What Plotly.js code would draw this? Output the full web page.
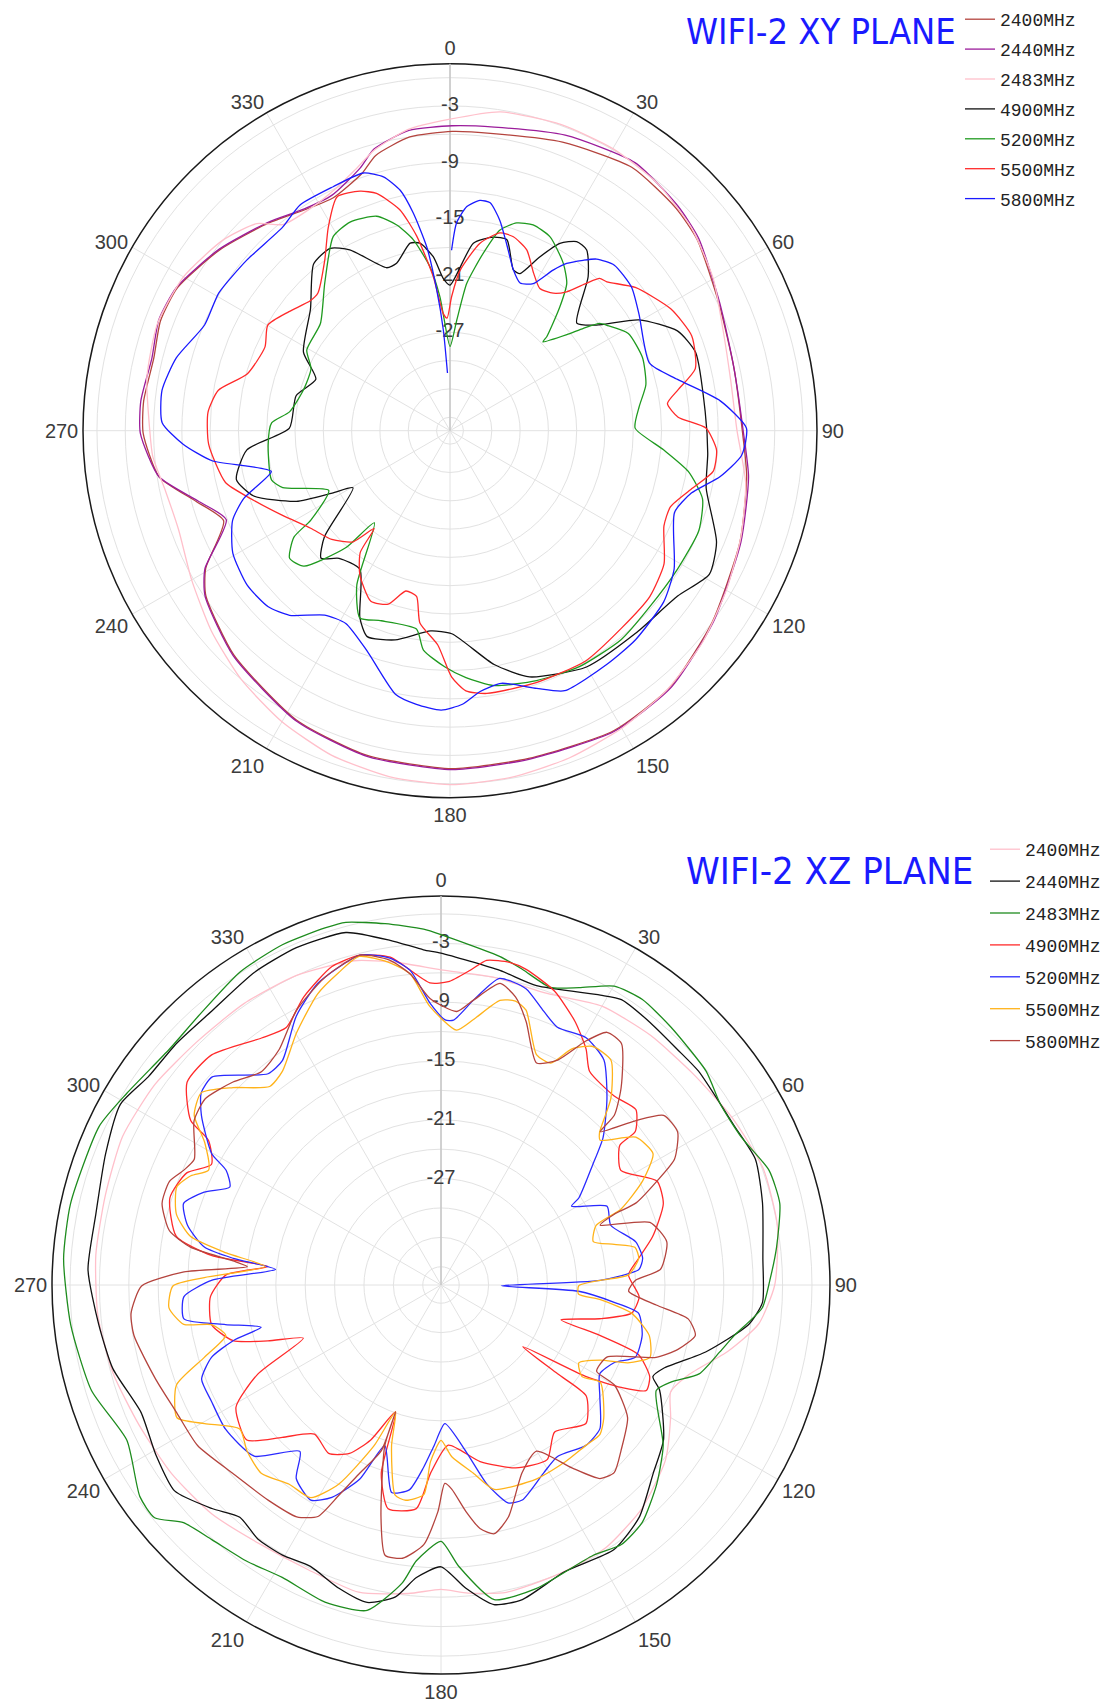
<!DOCTYPE html>
<html><head><meta charset="utf-8">
<script src="https://cdn.plot.ly/plotly-3.0.1.min.js"></script>
<style>html,body{margin:0;padding:0;background:#fff}#chart{width:1107px;height:1703px}</style>
</head><body><div id="chart"></div>
<script>
// ---------- shared axis data ----------
const freqLabels = ['2400MHz','2440MHz','2483MHz','4900MHz','5200MHz','5500MHz','5800MHz'];
const angVals = [0,30,60,90,120,150,180,210,240,270,300,330];
const angText = ['0','30','60','90','120','150','180','210','240','270','300','330'];
const gridVals = [-36,-33,-30,-27,-24,-21,-18,-15,-12,-9,-6,-3,0];
const radialLabelVals = [-3,-9,-15,-21,-27];
const radialLabelText = ['-3','-9','-15','-21','-27'];

// ---------- XY PLANE ----------
const xy2400_theta = [0.4,8.3,21.3,34.6,45.4,52.3,64.8,77.6,90.6,98.8,111,126.2,139.3,151.4,166.5,179.7,194.3,207.9,223.9,236,240.6,248.3,254.4,261,269.5,275.5,283.7,290.8,297.7,308.2,318.9,326.7,333.4,341.1,344.9,352.2];
const xy2400_r = [-5.7,-5.6,-4.6,-3.5,-3.8,-4.3,-5.9,-6.6,-6.4,-5.6,-4.5,-3.0,-1.6,-1.2,-1.7,-1.6,-1.9,-2.7,-4.4,-6.2,-7.7,-11.6,-9.5,-6.2,-4.9,-4.8,-5.1,-4.6,-4.8,-6.4,-8.2,-9.4,-9.8,-8.6,-7.2,-6.0];
const xy2440_theta = [0.4,8.3,21.3,34.6,45.4,52.3,64.8,77.6,90.6,98.8,111,126.2,139.3,151.4,166.5,179.7,194.3,207.9,223.9,236,240.6,248.3,254.4,261,269.5,275.5,283.7,290.8,297.7,308.2,318.9,326.7,333.4,341.1,344.9,352.2];
const xy2440_r = [-5.1,-4.9,-3.8,-2.9,-3.5,-4.1,-5.8,-6.6,-6.3,-5.4,-4.4,-2.9,-1.5,-1.1,-1.6,-1.5,-1.8,-2.6,-4.3,-6.1,-7.6,-11.9,-9.7,-6.2,-4.6,-4.5,-4.9,-4.4,-4.7,-6.3,-8.1,-9.3,-9.5,-8.0,-6.5,-5.3];
const xy2483_theta = [0,9,20,30,40,50,60,70,80,90,100,110,120,130,140,150,160,170,180,190,200,210,220,230,240,250,258,265,270,280,290,300,310,317,321,328,335,340,345,352];
const xy2483_r = [-4.4,-3.2,-2.9,-2.9,-3.2,-4.0,-5.2,-6.6,-7.2,-7.0,-5.6,-4.6,-3.6,-2.5,-1.6,-1.0,-0.5,-0.1,0.1,-0.2,-0.8,-1.8,-3.0,-4.4,-5.8,-6.8,-6.6,-5.8,-5.6,-4.8,-4.4,-4.8,-6.0,-7.4,-9.3,-9.6,-9.0,-8.0,-6.6,-5.2];
const xy4900_theta = [0,7.1,12.6,16.6,21.5,24,27.3,30.4,33.8,37.1,41.9,49.7,54.2,59.6,66.3,72.3,85.7,95,102.6,112.7,119,126,137.6,150,162.1,169.3,179.5,185.5,194.7,201.9,205.7,213,221,225.3,229.8,239.5,242.1,245.3,251.6,257.1,264.6,270.9,282.8,291,298.2,311.1,320.7,326.7,331,338.8,342.3,348,350.9,354.5,357.5];
const xy4900_r = [-22.0,-17.4,-16.4,-16.3,-19.1,-19.2,-16.7,-14.4,-13.3,-13.4,-15.5,-19.8,-18.3,-14.2,-11.1,-10.1,-10.3,-10.0,-9.6,-6.8,-6.0,-7.6,-8.3,-8.5,-10.0,-12.2,-15.9,-16.1,-14.5,-13.9,-15.4,-19.9,-19.5,-18.2,-20.0,-25.5,-23.3,-19.5,-15.5,-14.2,-15.8,-20.4,-20.7,-22.2,-19.8,-17.8,-14.6,-14.3,-15.5,-18.9,-18.8,-17.1,-17.3,-18.9,-21.3];
const xy5200_theta = [0,3.5,6.5,10.6,14,17.8,22,27.3,34.1,38.4,41.6,45.8,46.3,50.6,52.5,54.4,56.1,61.4,69.2,76.8,82.7,89.2,95.1,99.7,105.1,111.9,121.3,131.5,140.7,151.4,160.9,170.2,176.3,181.3,186.9,189.6,199.9,205.7,211.1,219.4,221.7,227.2,231.5,235.7,237.3,243.8,251.2,254.6,265.7,272.5,276.7,285.5,294,299.4,309.6,319.7,329,334.4,341.1,345.5,349.1,353,355.7];
const xy5200_r = [-28.5,-25.7,-21.7,-18.3,-15.5,-14.3,-13.9,-14.3,-16.0,-17.5,-19.9,-23.1,-23.8,-21.4,-19.6,-17.9,-17.4,-15.9,-15.6,-16.1,-17.2,-17.8,-14.7,-11.8,-9.7,-9.0,-9.2,-9.2,-8.8,-8.9,-9.4,-10.0,-11.2,-12.4,-14.0,-16.1,-16.0,-15.4,-18.3,-24.8,-20.8,-16.3,-15.7,-17.4,-19.9,-23.1,-18.7,-17.8,-18.1,-18.5,-20.3,-21.3,-21.3,-20.0,-19.6,-16.9,-13.4,-12.9,-13.4,-14.9,-16.8,-19.9,-23.2];
const xy5500_theta = [0.7,3.6,9.1,14.2,18.1,23,27.9,32.3,36.9,40,42.8,44.5,46.5,52.3,61.1,68.6,75.8,79.9,82.9,86.6,89.4,94.1,98.8,103.3,109,114,121.9,129.7,139.1,149.5,161.1,172,176.5,179.6,183.3,188.9,191.4,195.4,199.6,204.9,212,216.4,217.8,221.1,227.4,235,243.3,251.2,257,266.8,274.4,279.9,285.6,294.3,300.1,306.5,312.9,316.2,323.7,329.1,334.2,339.4,342.8,347.2,350.3,353.8,356.7,358.5];
const xy5500_r = [-23.2,-20.4,-17.3,-15.8,-15.8,-16.6,-18.5,-19.6,-19.2,-18.2,-16.1,-14.8,-14.5,-12.6,-10.7,-9.9,-10.6,-12.9,-14.2,-13.2,-10.3,-9.1,-9.2,-11.0,-12.7,-12.6,-10.7,-9.9,-9.7,-9.1,-9.2,-9.3,-9.8,-11.3,-14.7,-16.8,-19.5,-19.8,-17.9,-17.5,-19.4,-21.4,-24.3,-21.8,-20.4,-19.4,-17.5,-15.1,-13.0,-11.8,-11.7,-12.5,-15.1,-15.9,-15.1,-16.2,-17.2,-17.2,-15.0,-12.3,-9.9,-10.3,-11.1,-13.4,-16.5,-21.0,-25.0,-25.5];
const xy5800_theta = [0.5,1.8,4.3,7.4,10,13.3,16.8,21.5,25.4,29.5,32.7,34.9,38,40.5,44.8,51.7,58.4,71.3,77.3,83.7,89.5,94.8,99.7,104.5,110,121.7,128.7,138.4,146,156.2,161.4,168.5,173.4,177.4,181.8,187,191.7,200.7,208.4,214.2,221,225.9,232.7,240.6,247.6,251.8,257.1,260.1,262.8,267.1,271.6,278,284.9,293.3,300.8,310,320.5,326.4,334.4,341.4,345.3,348.3,350.4,352.8,354.6,356.2,357.5];
const xy5800_r = [-18.3,-15.4,-13.6,-12.8,-12.9,-14.5,-16.7,-19.1,-20.1,-19.5,-17.2,-15.8,-14.5,-13.5,-12.7,-12.9,-13.9,-15.1,-12.7,-8.6,-6.0,-6.4,-8.4,-11.0,-12.1,-9.5,-8.4,-7.8,-7.6,-7.3,-8.6,-10.1,-9.6,-8.4,-7.8,-8.2,-8.9,-12.5,-14.2,-13.8,-11.5,-10.6,-10.4,-11.0,-12.5,-14.4,-18.0,-15.6,-12.0,-9.1,-6.9,-6.6,-7.4,-9.1,-8.9,-9.3,-9.5,-8.7,-8.75,-8.6,-9.6,-11.4,-14.0,-17.8,-22.4,-26.7,-31.3];

// ---------- XZ PLANE ----------
const xz2400_theta = [0,10,20,30,40,50,60,70,80,90,97,103,110,115,120,128,138,148,158,168,175,180,186,195,205,215,225,235,245,255,265,275,285,295,305,315,325,335,345,352];
const xz2400_r = [-5.7,-6.0,-6.2,-5.0,-4.6,-4.3,-3.6,-2.9,-3.0,-3.8,-5.2,-7.8,-11.0,-12.0,-10.8,-8.8,-7.2,-6.2,-6.0,-5.8,-6.3,-6.8,-6.2,-5.4,-5.8,-5.6,-4.8,-4.3,-3.9,-3.2,-2.7,-2.5,-2.4,-2.0,-2.2,-2.7,-2.8,-3.0,-3.6,-4.6];
const xz2440_theta = [0,10.6,17.7,28.8,32.3,38.4,45.1,50.3,61.6,68.2,75.7,85.3,93.1,97.3,104.2,110.5,113.4,115.7,124.8,131.6,139.5,146.8,156.7,165.5,170.6,175.3,180,184.8,188.3,193.1,198.6,204.9,210.4,215.8,220.9,225.7,232.3,239.3,247,255.7,263.4,272.5,281.6,291.4,299.4,305.4,312.4,320.1,329.2,336.8,344.9,351.6,357];
const xz2440_r = [-4.0,-5.2,-5.8,-4.1,-3.4,-3.6,-3.8,-3.7,-3.8,-3.3,-4.0,-4.9,-5.0,-6.2,-10.0,-13.6,-14.3,-13.1,-10.2,-8.9,-6.7,-5.6,-6.0,-4.7,-4.8,-6.8,-9.1,-7.9,-5.7,-4.6,-5.2,-6.2,-5.9,-5.9,-6.5,-5.2,-3.5,-4.0,-4.6,-3.3,-2.7,-1.8,-1.9,-1.1,-0.3,-1.2,-1.3,-1.4,-0.7,-0.4,-0.6,-2.3,-3.6];
const xz2483_theta = [0,10.2,14.5,20.2,24.9,30.1,35.2,41.7,51.1,57.1,63.8,70.7,76.5,83.6,89.2,94.1,99.8,103.5,109,112.9,116.1,125.8,132.7,139.7,145.2,150.7,162.5,170.4,176.4,180,185.1,187.4,192.8,200.1,208.5,215.1,222,227.3,230.9,234.9,243.7,253.2,263.9,274,282.4,294.9,301.4,311,317.9,327.3,335,342,345.3,351.2,357.2];
const xz2483_r = [-2.1,-3.8,-4.6,-5.5,-4.4,-2.6,-2.2,-2.6,-3.1,-3.9,-3.7,-2.4,-2.3,-3.4,-4.3,-5.0,-7.5,-8.6,-10.0,-12.4,-13.4,-9.9,-7.9,-6.1,-5.6,-6.2,-5.4,-5.3,-9.1,-11.7,-9.6,-7.2,-3.8,-3.4,-3.9,-3.4,-2.9,-2.1,-0.2,-0.3,-2.1,-0.6,0.15,0.75,0.85,0.6,-0.3,-1.15,-0.9,0.1,0.45,0.45,0.4,-0.55,-1.5];
const xz4900_theta = [1.4,5.3,8,12,15.1,21.1,27,31.6,34.8,42.5,48,51.7,52,57.5,64.3,69.9,77.1,82.3,86.9,93.4,98.4,102,106.2,107.6,109.4,113.7,117.2,119.6,122.3,127,127.3,127.4,133.7,142.3,148.7,157.8,167.5,177.4,183.2,186.3,193.3,197.6,199.7,204.4,208.5,213.7,220.3,226.2,231.4,239.2,244.1,248.9,252.1,255,260.2,267.1,272.7,276.1,277.3,280.4,287.8,293.8,297.7,301.9,303.3,308.6,315.1,324,329,334.5,341.1,346.2,351.2,357.9];
const xz4900_r = [-6.9,-5.6,-4.4,-4.2,-4.5,-5.7,-7.7,-9.6,-11.3,-11.7,-11.1,-12.6,-14.7,-16.1,-13.4,-13.7,-15.7,-17.5,-18.7,-17.6,-18.2,-21.3,-25.1,-20.8,-16.5,-14.6,-14.3,-16.7,-20.4,-27.4,-22.9,-19.2,-17.4,-18.9,-17.0,-17.7,-19.4,-21.5,-18.6,-14.9,-14.4,-17.7,-24.1,-20.5,-18.3,-17.2,-17.9,-15.4,-12.5,-13.5,-17.1,-22.8,-19.3,-15.9,-14.1,-14.3,-15.9,-20.1,-14.3,-10.4,-8.8,-9.5,-11.4,-9.9,-7.3,-4.7,-4.7,-6.7,-7.2,-5.3,-3.5,-3.2,-4.0,-7.0];
const xz5200_theta = [0.9,2.7,6.5,10.8,16,20.5,24.3,30.4,35.9,41.7,47.7,51.6,57.7,58.9,64.6,70.6,77.5,82.4,85.5,88.3,90.8,92.6,95.7,98.1,104,110.4,114.2,119.2,124.9,132.1,137.9,145.8,151.4,159.3,162.9,167,171.5,178.4,182.4,185.4,188.8,193.4,199.3,202.7,207.2,211.2,216.8,220.3,227.5,236.2,243.1,248.5,252.5,255,256.8,259.6,262.5,267.4,271.2,275.4,277.3,279.1,283.2,287.6,291.4,294.9,298.1,299.8,305.3,308.7,312.3,320.7,324.8,331.7,337.8,346.2,351.1,354.4,357.8];
const xz5200_r = [-10.8,-10.8,-8.6,-6.0,-6.4,-8.0,-9.0,-8.6,-9.5,-12.4,-15.5,-18.1,-21.2,-22.3,-19.1,-19.5,-17.5,-17.1,-17.6,-21.6,-31.7,-23.8,-20.1,-17.5,-16.7,-16.7,-18.5,-19.3,-18.1,-16.0,-15.8,-16.7,-16.0,-14.4,-14.6,-17.0,-20.7,-23.7,-21.5,-19.2,-16.7,-16.1,-20.5,-16.4,-13.5,-12.2,-13.2,-15.6,-12.0,-11.4,-11.6,-11.6,-13.3,-15.9,-19.0,-15.5,-11.4,-11.6,-14.5,-20.9,-16.5,-13.4,-11.3,-10.3,-11.9,-14.1,-13.0,-10.9,-7.9,-6.5,-6.3,-10.0,-9.8,-6.7,-4.6,-3.2,-4.1,-5.6,-9.1];
const xz5500_theta = [3.5,6.9,11.7,14.7,17.2,22.5,26.3,29,32.5,37.1,42.3,46.1,47.7,52.8,58.2,62.7,67.1,69,74.1,76.8,79,82.3,86.9,88.3,90.3,93.8,95.2,98.4,103.6,109.1,112.6,115.3,119.5,123,121.4,129.3,133.2,137.9,145,153.7,165.4,170.3,176.4,180,183.4,184.7,189.3,192.3,197.1,199.7,202.6,207.2,211.5,217.3,223.7,229.4,234.4,239.6,243.3,249.3,253,256.8,260.2,261.3,265.2,269.8,271.8,276,278.5,281,285,290.4,293.6,296.3,301.1,304.5,308.7,313.5,319.2,323.4,330.2,337,341.9,346,351.1,354.4,357.7];
const xz5500_r = [-11.8,-10.6,-8.2,-7.9,-8.5,-12.4,-12.6,-10.3,-9.0,-9.1,-12.1,-15.4,-15.9,-12.9,-12.4,-14.7,-17.9,-20.9,-21.7,-19.7,-17.7,-17.5,-18.7,-21.6,-23.8,-23.8,-21.6,-18.2,-16.0,-15.3,-17.2,-19.9,-21.7,-20.7,-18.8,-16.4,-15.6,-15.8,-15.8,-15.8,-16.3,-18.4,-20.3,-22.0,-19.8,-16.4,-15.6,-15.9,-20.7,-24.1,-20.1,-15.0,-12.4,-12.3,-11.3,-11.8,-12.6,-9.9,-7.7,-9.0,-12.6,-15.3,-14.1,-11.3,-10.0,-10.5,-13.7,-19.8,-15.7,-11.8,-9.9,-9.1,-10.0,-11.4,-9.7,-7.3,-6.5,-8.6,-11.1,-10.7,-8.2,-5.6,-4.3,-3.3,-4.6,-6.0,-9.4];
const xz5800_theta = [3.3,6.5,11.1,14.5,17.9,23.3,27.4,30.7,33.3,36.8,42.4,45.6,46.1,49.8,52.7,57.1,61.7,64.3,67.2,67.8,69.4,73.3,79.2,85.9,88.6,91.9,95.3,97.8,101.2,105.2,108.6,113.5,119,120,125.4,132.6,137.3,140.6,144.4,150.1,156.6,163.8,167.9,170.9,173.7,177,178.9,180.8,183.8,188,191.7,194.5,199.3,199.7,199.8,203.3,205.9,208,211.9,218.7,227.9,236.6,244.3,251.7,260.7,264.8,269.8,272.9,275.4,276.6,278.6,281.3,286.3,290.9,294,297,303.6,308.3,314.3,319.9,325.5,332.2,339.3,346.2,351,354.4,357.8];
const xz5800_r = [-9.9,-8.6,-6.5,-7.5,-9.6,-13.2,-12.0,-8.9,-7.0,-7.1,-10.6,-13.1,-15.3,-11.9,-9.3,-9.1,-10.8,-13.4,-16.3,-18.8,-20.5,-15.6,-14.4,-15.4,-18.0,-18.7,-15.8,-12.4,-11.4,-12.8,-14.7,-19.4,-19.7,-17.4,-14.5,-12.9,-11.8,-12.3,-14.9,-18.3,-17.0,-13.2,-11.9,-12.7,-14.6,-17.0,-17.6,-14.7,-11.3,-9.7,-9.7,-13.4,-20.5,-24.1,-19.9,-17.0,-14.0,-11.1,-10.0,-9.7,-9.2,-8.1,-7.9,-7.2,-6.1,-6.1,-7.3,-11.6,-18.0,-16.5,-12.0,-9.6,-8.2,-8.2,-9.1,-9.6,-7.6,-7.2,-8.2,-9.4,-8.7,-6.2,-4.3,-3.2,-4.3,-6.0,-8.6];

// ---------- build ----------
const xyColors = ['#b4443e','#9b1c9b','#ffc0cb','#111111','#1f9a1f','#ff2a2a','#1a1aff'];
const xzColors = ['#ffc0cb','#111111','#1e8c1e','#ff2a2a','#2a2aff','#ffb31a','#b4443e'];
const xySeries = [[xy2400_theta,xy2400_r,true],[xy2440_theta,xy2440_r,true],[xy2483_theta,xy2483_r,true],[xy4900_theta,xy4900_r,true],[xy5200_theta,xy5200_r,true],[xy5500_theta,xy5500_r,true],[xy5800_theta,xy5800_r,false]];
const xzSeries = [[xz2400_theta,xz2400_r,true],[xz2440_theta,xz2440_r,true],[xz2483_theta,xz2483_r,true],[xz4900_theta,xz4900_r,true],[xz5200_theta,xz5200_r,true],[xz5500_theta,xz5500_r,true],[xz5800_theta,xz5800_r,true]];

const traces = [];
function labelTrace(subplot){
  return {type:'scatterpolar', subplot:subplot, mode:'text', theta:radialLabelVals.map(()=>0), r:radialLabelVals,
    text:radialLabelText, textposition:'middle center', showlegend:false, hoverinfo:'skip',
    textfont:{family:'Liberation Sans, Arial, sans-serif', size:20, color:'#3c3c3c'}, cliponaxis:false};
}
traces.push(labelTrace('polar'));
traces.push(labelTrace('polar2'));
function addSeries(series, colors, subplot, legend, prefix){
  series.forEach((s,i)=>{
    const th = s[2] ? s[0].concat([s[0][0]]) : s[0];
    const rr = s[2] ? s[1].concat([s[1][0]]) : s[1];
    traces.push({type:'scatterpolar', subplot:subplot, legend:legend, mode:'lines', name:freqLabels[i],
      legendgroup:prefix+i, theta:th, r:rr,
      line:{color:colors[i], width:1.3, shape:'spline', smoothing:0.6}, hoverinfo:'skip'});
  });
}
addSeries(xySeries, xyColors, 'polar', 'legend', 'xy');
addSeries(xzSeries, xzColors, 'polar2', 'legend2', 'xz');

function polarCfg(dx, dy, range){
  return {
    domain:{x:dx, y:dy}, bgcolor:'rgba(0,0,0,0)',
    radialaxis:{range:range, tickvals:gridVals, showticklabels:false, ticks:'', gridcolor:'#e2e2e2', gridwidth:1,
      showline:true, linecolor:'#c6c6c6', linewidth:1.5, angle:90, layer:'below traces'},
    angularaxis:{rotation:90, direction:'clockwise', tickmode:'array', tickvals:angVals, ticktext:angText, ticks:'',
      showline:true, linecolor:'#1a1a1a', linewidth:1.5, gridcolor:'#e2e2e2', layer:'below traces',
      tickfont:{family:'Liberation Sans, Arial, sans-serif', size:20, color:'#3c3c3c'}}
  };
}
const W=1107, H=1703;
const layout = {
  width:W, height:H, margin:{l:0,r:0,t:0,b:0}, paper_bgcolor:'#ffffff', showlegend:true,
  polar: polarCfg([(450-367)/W,(450+367)/W], [(H-430.7-367)/H,(H-430.7+367)/H], [-37.43,1.48]),
  polar2: polarCfg([(441-389)/W,(441+389)/W], [(H-1285-389)/H,(H-1285+389)/H], [-37.86,1.84]),
  legend:{x:960/W, y:1-1/H, xanchor:'left', yanchor:'top', bgcolor:'rgba(0,0,0,0)', tracegroupgap:3.5,
    font:{family:'Liberation Mono, Courier New, monospace', size:18, color:'#222'}, itemwidth:30},
  legend2:{x:985/W, y:1-831/H, xanchor:'left', yanchor:'top', bgcolor:'rgba(0,0,0,0)', tracegroupgap:5.5,
    font:{family:'Liberation Mono, Courier New, monospace', size:18, color:'#222'}, itemwidth:30},
  annotations:[
    {text:'WIFI-2 XY PLANE', xref:'paper', yref:'paper', x:684/W, y:1-31/H, xanchor:'left', yanchor:'middle', showarrow:false,
      font:{family:'DejaVu Sans Condensed, Liberation Sans, sans-serif', size:36, color:'#1a1aff'}},
    {text:'WIFI-2 XZ PLANE', xref:'paper', yref:'paper', x:684/W, y:1-871/H, xanchor:'left', yanchor:'middle', showarrow:false,
      font:{family:'DejaVu Sans Condensed, Liberation Sans, sans-serif', size:38, color:'#1a1aff'}}
  ]
};
Plotly.newPlot('chart', traces, layout, {displayModeBar:false, staticPlot:true});
</script></body></html>
